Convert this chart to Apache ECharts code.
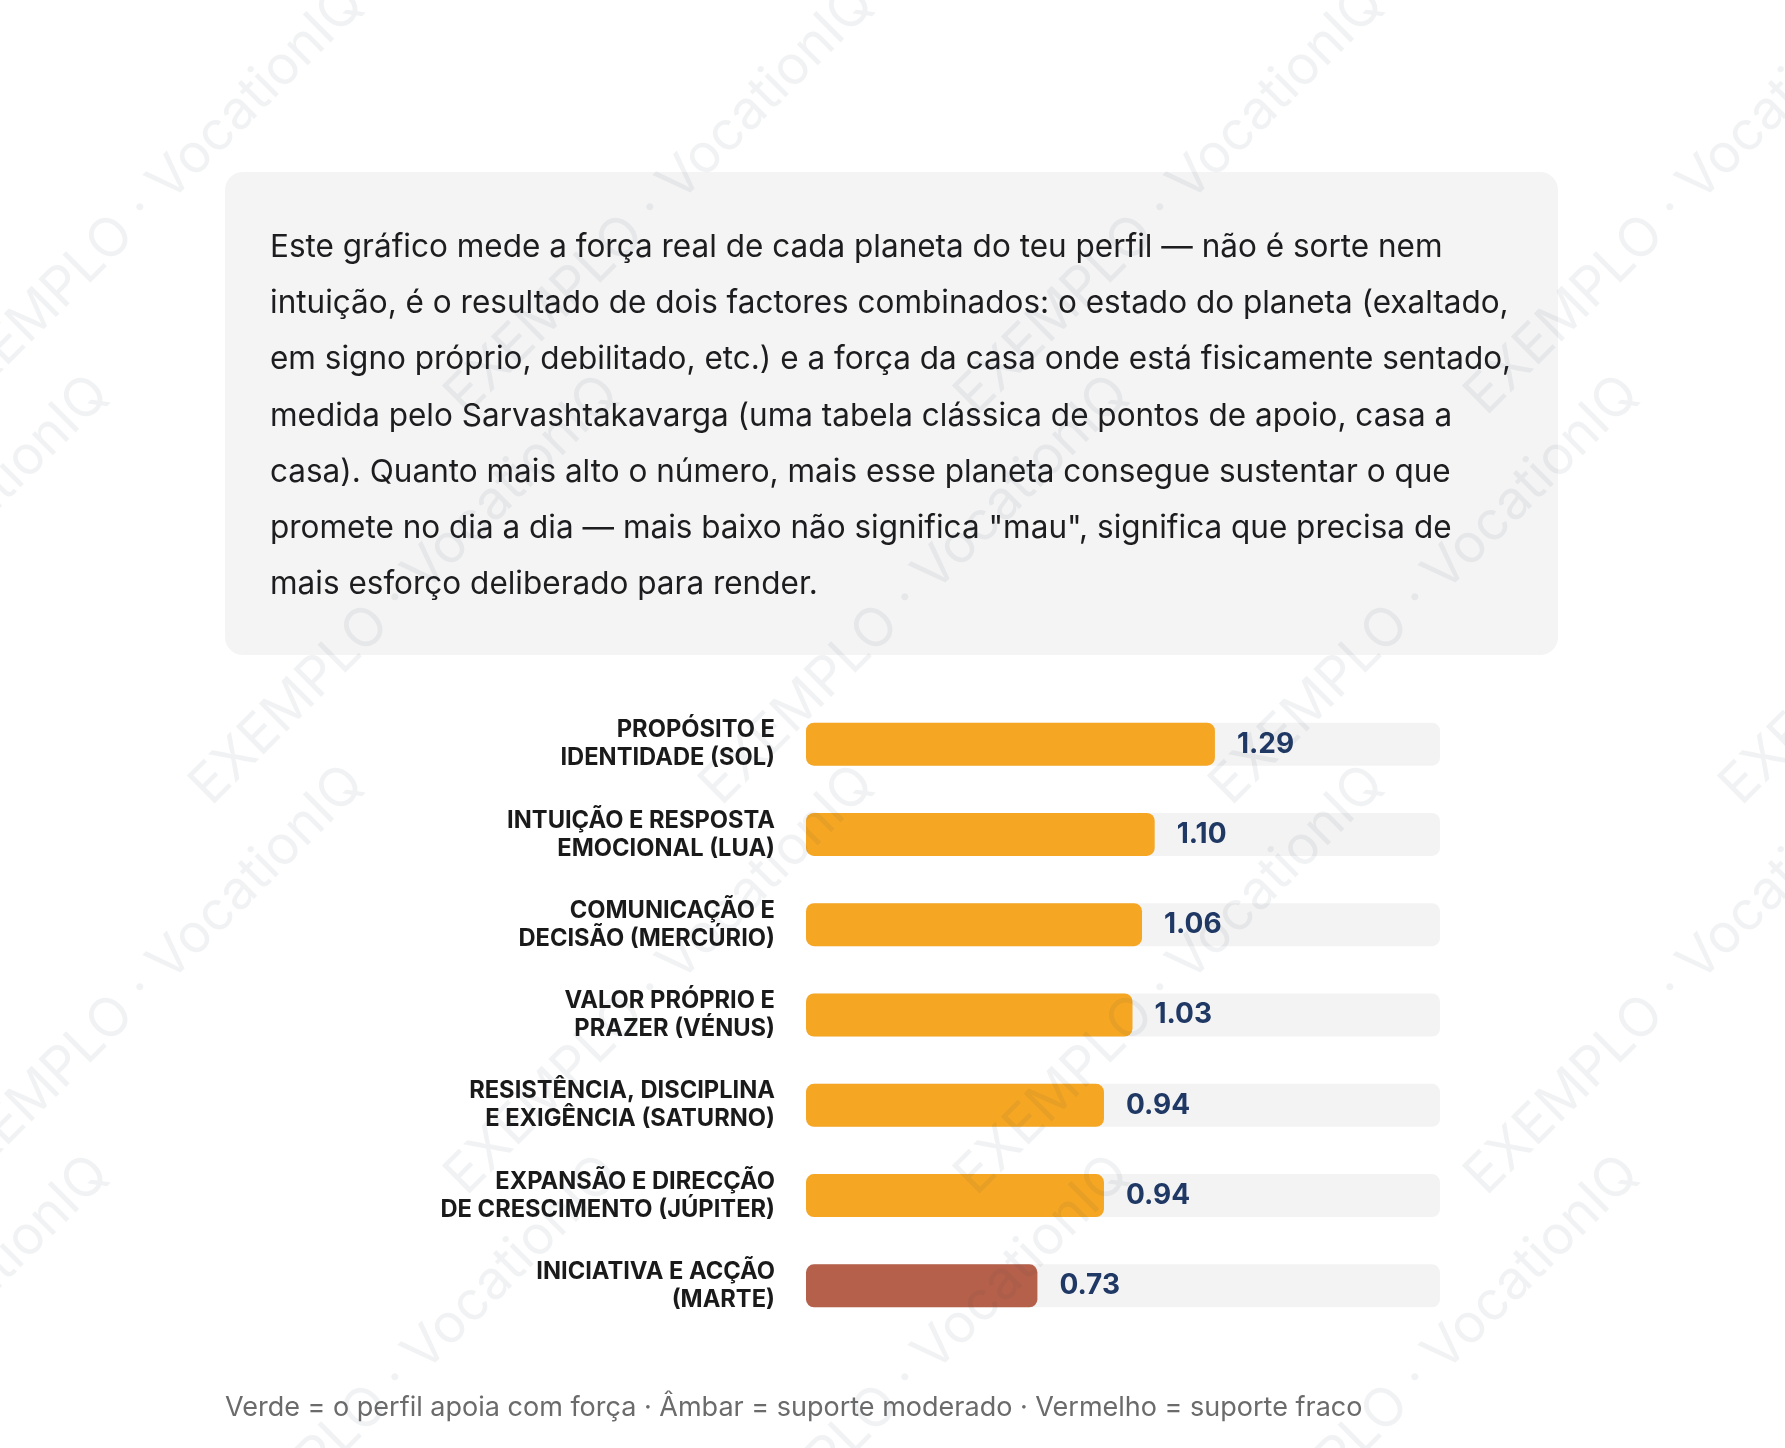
<!DOCTYPE html>
<html>
<head>
<meta charset="utf-8">
<script src="https://cdn.jsdelivr.net/npm/echarts@6/dist/echarts.min.js"></script>
<style>html,body{margin:0;background:#fff}#c{width:1785px;height:1448px}</style>
</head>
<body>
<div id="c"></div>
<script>
const categories = [
  'PROPÓSITO E\nIDENTIDADE (SOL)',
  'INTUIÇÃO E RESPOSTA\nEMOCIONAL (LUA)',
  'COMUNICAÇÃO E\nDECISÃO (MERCÚRIO)',
  'VALOR PRÓPRIO E\nPRAZER (VÉNUS)',
  'RESISTÊNCIA, DISCIPLINA\nE EXIGÊNCIA (SATURNO)',
  'EXPANSÃO E DIRECÇÃO\nDE CRESCIMENTO (JÚPITER)',
  'INICIATIVA E ACÇÃO\n(MARTE)'
];
const values = [1.29, 1.10, 1.06, 1.03, 0.94, 0.94, 0.73];
const levels = ['amber', 'amber', 'amber', 'amber', 'amber', 'amber', 'red'];
const levelColors = { green: '#4caf7a', amber: '#f5a623', red: '#b5604a' };

const intro = [
  'Este gráfico mede a força real de cada planeta do teu perfil — não é sorte nem',
  'intuição, é o resultado de dois factores combinados: o estado do planeta (exaltado,',
  'em signo próprio, debilitado, etc.) e a força da casa onde está fisicamente sentado,',
  'medida pelo Sarvashtakavarga (uma tabela clássica de pontos de apoio, casa a',
  'casa). Quanto mais alto o número, mais esse planeta consegue sustentar o que',
  'promete no dia a dia — mais baixo não significa "mau", significa que precisa de',
  'mais esforço deliberado para render.'
];
const footer = 'Verde = o perfil apoia com força · Âmbar = suporte moderado · Vermelho = suporte fraco';

const font = 'Inter, "Noto Sans", sans-serif';
const graphics = [];
// watermarks
for (let row = 0; row < 5; row++) {
  for (let col = -1; col < 5; col++) {
    graphics.push({
      type: 'text', z: 100, rotation: Math.PI / 4,
      x: col * 510 + (row % 2 ? 255 : 0) + 150, y: row * 390 + 200,
      style: { text: 'EXEMPLO · VocationIQ', fontSize: 54, fontFamily: font,
        fill: 'rgba(60,70,90,0.07)', textAlign: 'center', textVerticalAlign: 'middle' }
    });
  }
}
graphics.push({ type: 'rect', z: -10, shape: { x: 225, y: 172, width: 1333, height: 483, r: 18 },
  style: { fill: '#f4f4f5' } });
graphics.push({ type: 'text', z: -5, x: 270, y: 219,
  style: { text: intro.join('\n'), fontSize: 31.5, lineHeight: 56.3, fontFamily: font,
    fill: '#1d1d1f', textVerticalAlign: 'top' } });
graphics.push({ type: 'text', x: 225, y: 1408,
  style: { text: footer, fontSize: 27, fontFamily: font, fill: '#6b6b6b', textVerticalAlign: 'middle' } });

const chart = echarts.init(document.getElementById('c'));
chart.setOption({
  animation: false,
  grid: { left: 806, width: 634, top: 699, height: 632 },
  xAxis: { type: 'value', min: 0, max: 2, show: false },
  yAxis: {
    type: 'category', data: categories, inverse: true,
    axisLine: { show: false }, axisTick: { show: false },
    axisLabel: { margin: 31, fontSize: 23.7, lineHeight: 28, fontWeight: 'bold',
      fontFamily: font, color: '#1a1a1a', align: 'right', padding: [6, 0, 0, 0] }
  },
  series: [{
    type: 'bar', barWidth: 43,
    data: values.map((v, i) => ({ value: v, itemStyle: { color: levelColors[levels[i]] } })),
    itemStyle: { borderRadius: 8 },
    showBackground: true,
    backgroundStyle: { color: '#f3f3f4', borderRadius: 8 },
    label: { show: true, position: 'right', distance: 22, fontSize: 28, fontWeight: 'bold',
      fontFamily: font, color: '#1f3864', formatter: p => p.value.toFixed(2) }
  }],
  graphic: graphics
});
</script>
</body>
</html>
